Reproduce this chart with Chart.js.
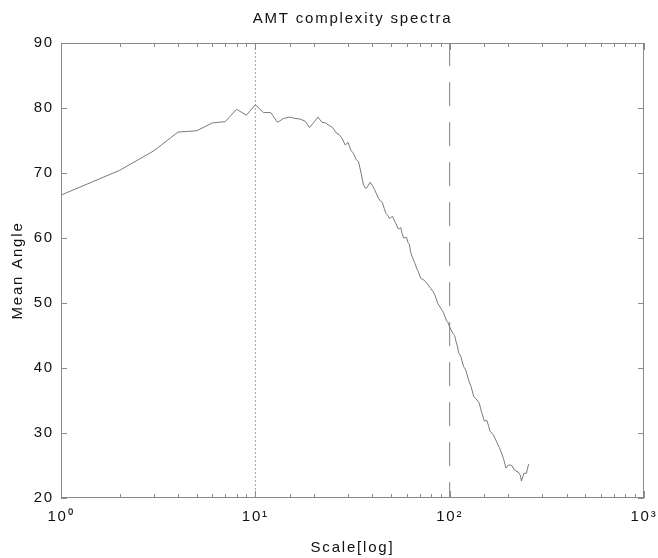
<!DOCTYPE html>
<html>
<head>
<meta charset="utf-8">
<script src="https://cdn.jsdelivr.net/npm/chart.js@4/dist/chart.umd.min.js"></script>
<style>
  html, body { margin: 0; padding: 0; background: #fff; }
  canvas { display: block; }
</style>
</head>
<body>
<canvas id="myChart" width="658" height="558"></canvas>
<script>
// scale (x, log axis) and mean angle
const scaleVals = [1, 2, 3, 4, 5, 6, 7, 8, 9, 10, 11, 12, 13, 14, 15, 16, 17, 18, 19, 20,
  21, 22, 23, 24, 25, 26, 27, 28, 29, 30, 31, 32, 33, 34, 35, 36, 37, 38, 39, 40,
  41, 42, 43, 44, 45, 46, 47, 48, 49, 50, 51, 52, 53, 54, 55, 56, 57, 58, 60, 61,
  62, 63, 64, 66, 68, 69, 71, 74, 77, 80, 82, 84, 87, 90, 93, 96, 98, 100, 104, 106,
  108, 110, 111, 114, 118, 121, 125, 129, 133, 138, 142, 146, 148, 151, 155, 159, 161, 168, 171, 176,
  180, 184, 189, 195, 201, 209, 215, 225, 231, 234, 241, 248, 255];
const meanAngle = [66.6, 70.4, 73.4, 76.3, 76.5, 77.7, 77.9, 79.8, 78.9, 80.5, 79.3, 79.3, 77.8, 78.4, 78.6, 78.4, 78.3, 78.0, 77.0, 77.8,
  78.6, 77.8, 77.7, 77.3, 77.0, 76.2, 75.9, 75.3, 74.3, 74.7, 73.5, 73.0, 72.1, 71.7, 70.0, 68.2, 67.6, 68.0, 68.6, 68.1,
  67.5, 66.8, 66.1, 65.7, 65.5, 64.6, 63.8, 63.5, 63.0, 63.2, 63.3, 62.6, 62.2, 61.5, 61.4, 61.6, 60.6, 60.0, 60.1, 59.3,
  59.1, 57.8, 57.2, 56.2, 55.2, 54.8, 53.8, 53.5, 52.9, 52.2, 51.8, 51.2, 49.9, 49.2, 48.5, 47.4, 47.0, 46.3, 45.3, 45.0,
  44.0, 43.2, 42.4, 41.8, 40.2, 39.7, 38.2, 37.1, 35.6, 35.1, 34.6, 33.2, 32.6, 31.8, 32.0, 31.0, 30.3, 29.7, 29.2, 28.4,
  27.8, 27.1, 26.1, 24.6, 25.1, 25.0, 24.3, 24.0, 23.5, 22.6, 23.8, 23.8, 25.2];

const xTickValues = [1, 10, 100, 1000];
const xTickLabels = ['10\u2070', '10\u00B9', '10\u00B2', '10\u00B3'];
const yRange = [20, 90];
const refLines = [10, 100];

const points = scaleVals.map((x, i) => ({ x: x, y: meanAngle[i] }));

// old plot text is spaced out a bit
const spacingPlugin = {
  id: 'spacing',
  afterInit(chart) { chart.ctx.letterSpacing = '1.8px'; },
  beforeUpdate(chart) { chart.ctx.letterSpacing = '1.8px'; }
};

// frame + inward tick marks
const framePlugin = {
  id: 'frame',
  afterDraw(chart) {
    const ctx = chart.ctx;
    const a = chart.chartArea;
    const xs = chart.scales.x;
    const ys = chart.scales.y;
    ctx.save();
    ctx.strokeStyle = '#8a8a8a';
    ctx.lineWidth = 1;
    ctx.strokeRect(a.left + 0.5, a.top + 0.5, a.right - a.left - 1, a.bottom - a.top - 1);
    ctx.beginPath();
    ys.ticks.forEach(t => {
      const py = Math.round(ys.getPixelForValue(t.value)) + 0.5;
      ctx.moveTo(a.left, py); ctx.lineTo(a.left + 6, py);
      ctx.moveTo(a.right, py); ctx.lineTo(a.right - 6, py);
    });
    xs.ticks.forEach(t => {
      const px = Math.round(xs.getPixelForValue(t.value)) + 0.5;
      const len = xTickValues.includes(t.value) ? 7 : 4;
      ctx.moveTo(px, a.bottom); ctx.lineTo(px, a.bottom - len);
      ctx.moveTo(px, a.top); ctx.lineTo(px, a.top + len);
    });
    ctx.stroke();
    ctx.restore();
  }
};

const data = {
  datasets: [{
    label: 'Mean Angle',
    data: points,
    borderColor: '#7a7a7a',
    borderWidth: 1,
    pointRadius: 0,
    showLine: true
  },
  {
    label: 'x=10',
    data: [{ x: refLines[0], y: yRange[0] }, { x: refLines[0], y: yRange[1] }],
    borderColor: '#a0a0a0',
    borderWidth: 1,
    borderDash: [2, 2],
    pointRadius: 0,
    showLine: true
  },
  {
    label: 'x=100',
    data: [{ x: refLines[1], y: yRange[0] }, { x: refLines[1], y: yRange[1] }],
    borderColor: '#808080',
    borderWidth: 1,
    borderDash: [24, 16],
    borderDashOffset: 8,
    pointRadius: 0,
    showLine: true
  }]
};

const font = { family: '"Liberation Sans", Arial, sans-serif', size: 15 };

const config = {
  type: 'scatter',
  data: data,
  options: {
    responsive: false,
    animation: false,
    devicePixelRatio: 1,
    layout: { padding: { left: 0, right: 14, top: 0, bottom: 0 } },
    plugins: {
      legend: { display: false },
      tooltip: { enabled: false },
      title: {
        display: true,
        fullSize: false,
        text: 'AMT complexity spectra',
        color: '#111',
        font: { family: font.family, size: 15, weight: 'normal' },
        padding: { top: 10, bottom: 15 }
      }
    },
    scales: {
      x: {
        type: 'logarithmic',
        min: 1,
        max: 1000,
        grid: { display: false, drawTicks: false },
        border: { display: false },
        afterFit(scale) {
          scale.height = 60;
          scale.paddingLeft = 0;
          scale.paddingRight = 0;
        },
        ticks: {
          autoSkip: false,
          maxRotation: 0,
          padding: 10,
          color: '#111',
          font: font,
          callback(value) {
            const i = xTickValues.indexOf(value);
            return i >= 0 ? xTickLabels[i] : '';
          }
        },
        title: { display: true, text: 'Scale[log]', color: '#111', font: font, padding: { top: 0, bottom: 1 } }
      },
      y: {
        min: yRange[0],
        max: yRange[1],
        grid: { display: false, drawTicks: false },
        border: { display: false },
        afterFit(scale) {
          scale.width = 61;
          scale.paddingTop = 0;
          scale.paddingBottom = 0;
        },
        ticks: { stepSize: 10, padding: 7, color: '#111', font: font },
        title: { display: true, text: 'Mean Angle', color: '#111', font: font, padding: { top: 9, bottom: 0 } }
      }
    }
  },
  plugins: [spacingPlugin, framePlugin]
};

new Chart(document.getElementById('myChart'), config);
</script>
</body>
</html>
